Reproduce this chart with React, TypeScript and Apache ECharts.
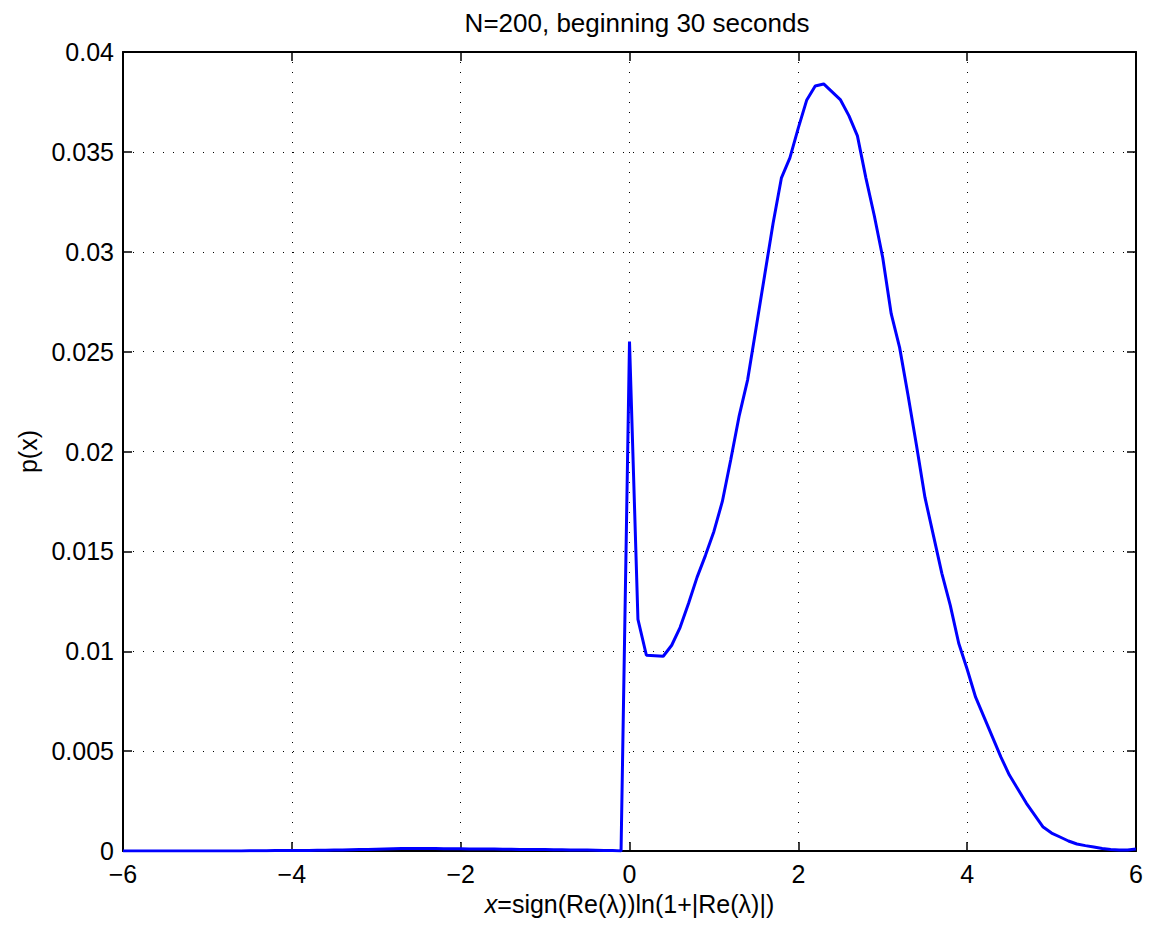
import React, { useEffect, useRef } from "react";
import * as echarts from "echarts";

const titleText = "N=200, beginning 30 seconds";
const xStart = -6;
const xStep = 0.1;
// p(x) values on the 0.1-wide grid from -6 to -0.1
const leftTail = [
  0, 0, 0, 0, 0, 0, 0, 0, 0, 0,
  0, 0, 0, 0, 0, 0.00001, 0.00001, 0.00001, 0.00002, 0.00002,
  0.00002, 0.00003, 0.00003, 0.00004, 0.00004, 0.00005, 0.00005, 0.00006, 0.00007, 0.00008,
  0.00009, 0.0001, 0.00011, 0.00012, 0.00012, 0.00012, 0.00012, 0.00012, 0.00011, 0.00011,
  0.00011, 0.0001, 0.0001, 0.0001, 0.0001, 0.00009, 0.00009, 0.00008, 0.00008, 0.00007,
  0.00007, 0.00006, 0.00006, 0.00005, 0.00005, 0.00005, 0.00004, 0.00003, 0.00002, 0,
];
// p(x) values on the 0.1-wide grid from 0 to 6
const spikeAndBody = [
  0.0255, 0.0116, 0.0098, 0.00978, 0.00975, 0.0103, 0.0112, 0.0124, 0.0137,
  0.0148, 0.016, 0.0175, 0.0196, 0.0218, 0.0236, 0.0262, 0.0288, 0.0314, 0.0337,
  0.0347, 0.0362, 0.0376, 0.0383, 0.0384, 0.038, 0.0376, 0.0368, 0.0358, 0.0337,
  0.0318, 0.0297, 0.0269, 0.0252, 0.0228, 0.0203, 0.0177, 0.0158, 0.0139, 0.0123,
  0.0104, 0.0091, 0.0077, 0.0067, 0.0057, 0.0047, 0.0038, 0.0031, 0.0024, 0.0018,
  0.0012, 0.0009, 0.0007, 0.0005, 0.00035, 0.00027, 0.0002, 0.00013, 0.00008, 0.00005,
  0.00005, 0.0001,
];
const xTicks = [-6, -4, -2, 0, 2, 4, 6];
const yTicks = [0, 0.005, 0.01, 0.015, 0.02, 0.025, 0.03, 0.035, 0.04];

const FONT = "'Liberation Sans', Arial, sans-serif";
const FS = 25;

export default function App() {
  const ref = useRef<HTMLDivElement>(null);
  useEffect(() => {
    document.body.style.margin = "0";
    const chart = echarts.init(ref.current!, null, { renderer: "svg" });
    const values = [...leftTail, ...spikeAndBody];
    const data = values.map((v, i) => [Number((xStart + i * xStep).toFixed(1)), v]);
    const gridLine = { show: true, lineStyle: { color: "#000", width: 1, type: [1, 9] as any } };
    const axisLine = { show: true, onZero: false, lineStyle: { color: "#000", width: 2 } };
    const axisTick = { show: true, inside: true, length: 9, lineStyle: { color: "#000", width: 1.5 } };
    chart.setOption({
      animation: false,
      backgroundColor: "#fff",
      title: {
        text: titleText,
        left: 632,
        top: 5,
        textAlign: "center",
        textStyle: { fontFamily: FONT, fontSize: 26, fontWeight: "normal", color: "#000" },
      },
      grid: { left: 123, right: 19, top: 52, bottom: 74, containLabel: false },
      xAxis: [
        {
          type: "value",
          min: xTicks[0],
          max: xTicks[xTicks.length - 1],
          interval: 2,
          position: "bottom",
          axisLine,
          axisTick,
          splitLine: gridLine,
          axisLabel: {
            color: "#000",
            fontFamily: FONT,
            fontSize: FS,
            lineHeight: 20,
            margin: 13,
            formatter: (v: number) => String(v).replace("-", "\u2212"),
          },
          name: "{i|x}=sign(Re(\u03bb))ln(1+|Re(\u03bb)|)",
          nameLocation: "middle",
          nameGap: 36,
          nameTextStyle: {
            color: "#000",
            fontFamily: FONT,
            fontSize: FS,
            lineHeight: 22,
            rich: { i: { fontStyle: "italic", fontFamily: FONT, fontSize: FS, lineHeight: 22, color: "#000" } },
          },
        },
        {
          type: "value",
          min: xTicks[0],
          max: xTicks[xTicks.length - 1],
          interval: 2,
          position: "top",
          axisLine,
          axisTick,
          splitLine: { show: false },
          axisLabel: { show: false },
        },
      ],
      yAxis: [
        {
          type: "value",
          min: yTicks[0],
          max: yTicks[yTicks.length - 1],
          interval: 0.005,
          position: "left",
          axisLine,
          axisTick,
          splitLine: gridLine,
          axisLabel: { color: "#000", fontFamily: FONT, fontSize: FS, lineHeight: 20, margin: 9 },
          name: "p(x)",
          nameLocation: "middle",
          nameGap: 80,
          nameTextStyle: { color: "#000", fontFamily: FONT, fontSize: FS },
        },
        {
          type: "value",
          min: yTicks[0],
          max: yTicks[yTicks.length - 1],
          interval: 0.005,
          position: "right",
          axisLine,
          axisTick,
          splitLine: { show: false },
          axisLabel: { show: false },
        },
      ],
      series: [
        {
          type: "line",
          data,
          xAxisIndex: 0,
          yAxisIndex: 0,
          showSymbol: false,
          symbol: "none",
          lineStyle: { color: "#0000ff", width: 3 },
          z: 5,
        },
      ],
    });
    return () => chart.dispose();
  }, []);
  return <div ref={ref} style={{ width: 1155, height: 925 }} />;
}
